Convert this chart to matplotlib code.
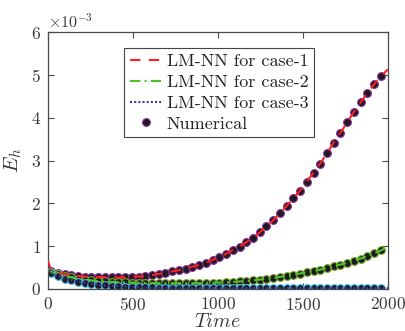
import numpy as np
import matplotlib
matplotlib.use("Agg")
import matplotlib.pyplot as plt

plt.rcParams['font.family'] = 'serif'
plt.rcParams['font.serif'] = ['cmr10', 'DejaVu Serif']
plt.rcParams['mathtext.fontset'] = 'cm'
plt.rcParams['axes.formatter.use_mathtext'] = True
plt.rcParams['axes.unicode_minus'] = True

# marker sampling times
t_num = np.linspace(18, 1958, 50)

case1_num = [0.42, 0.37, 0.34, 0.32, 0.30, 0.29, 0.285, 0.28, 0.275, 0.27,
             0.27, 0.275, 0.28, 0.29, 0.30, 0.32, 0.35, 0.38, 0.41, 0.44,
             0.47, 0.52, 0.56, 0.61, 0.68, 0.74, 0.82, 0.91, 0.99, 1.09,
             1.20, 1.32, 1.46, 1.60, 1.77, 1.94, 2.12, 2.30, 2.51, 2.72,
             2.93, 3.17, 3.42, 3.65, 3.89, 4.14, 4.36, 4.58, 4.78, 4.97]

case2_num = [0.40, 0.35, 0.30, 0.27, 0.24, 0.22, 0.20, 0.185, 0.175, 0.165,
             0.16, 0.155, 0.15, 0.145, 0.14, 0.14, 0.135, 0.135, 0.135, 0.135,
             0.135, 0.135, 0.135, 0.14, 0.145, 0.15, 0.155, 0.165, 0.175, 0.185,
             0.20, 0.22, 0.24, 0.26, 0.28, 0.31, 0.33, 0.36, 0.39, 0.42,
             0.45, 0.49, 0.53, 0.57, 0.61, 0.66, 0.71, 0.77, 0.83, 0.90]

case3_num = [0.37, 0.30, 0.24, 0.21, 0.17, 0.15, 0.12, 0.10, 0.085, 0.075,
             0.065, 0.055, 0.05, 0.045, 0.04, 0.035, 0.033, 0.03, 0.03, 0.028,
             0.027, 0.026, 0.025, 0.025, 0.024, 0.024, 0.023, 0.023, 0.022, 0.022,
             0.022, 0.021, 0.021, 0.021, 0.02, 0.02, 0.02, 0.02, 0.02, 0.02,
             0.02, 0.02, 0.02, 0.02, 0.02, 0.02, 0.02, 0.02, 0.02, 0.02]

# LM-NN line start (t=0) and end (t=2000) values
line_t_start, line_t_end = 0, 2000
case1_line_ends = [0.66, 5.13]
case2_line_ends = [0.47, 0.98]
case3_line_ends = [0.55, 0.02]

labels = ['LM-NN for case-1', 'LM-NN for case-2', 'LM-NN for case-3', 'Numerical']
scale = 1e-3

fig = plt.figure(figsize=(4.05, 3.31), dpi=100)
ax = fig.add_axes([0.1185, 0.127, 0.8395, 0.776])

def line_series(ends, vals):
    t = np.concatenate([[line_t_start], t_num, [line_t_end]])
    y = np.concatenate([[ends[0]], vals, [ends[1]]]) * scale
    return t, y

mk = dict(marker='o', linestyle='none', markersize=5.6, markerfacecolor='#1e1a1f',
          markeredgewidth=0.8)

t1, y1 = line_series(case1_line_ends, case1_num)
t2, y2 = line_series(case2_line_ends, case2_num)
t3, y3 = line_series(case3_line_ends, case3_num)

h1, = ax.plot(t1, y1, color='#ff1f1f', linestyle=(0, (5, 4)), lw=1.5, zorder=3)
h2, = ax.plot(t2, y2, color='#4fc32a', linestyle=(0, (5, 2, 1, 2)), lw=1.5, zorder=3)
h3, = ax.plot(t3, y3, color='#2e3fa8', linestyle=(0, (1, 1)), lw=1.5, zorder=3)

hn, = ax.plot(t_num, np.array(case1_num) * scale, markeredgecolor='#8a2f9a', zorder=2, **mk)
ax.plot(t_num, np.array(case2_num) * scale, markeredgecolor='#77ac30', zorder=2, **mk)
ax.plot(t_num, np.array(case3_num) * scale, markeredgecolor='#4dbeee', zorder=2, **mk)

ax.set_xlim(0, 2000)
ax.set_ylim(0, 6e-3)
ax.set_xticks([0, 500, 1000, 1500, 2000])
ax.set_yticks(np.arange(0, 7) * 1e-3)
ax.ticklabel_format(style='sci', axis='y', scilimits=(0, 0), useMathText=True)

for s in ax.spines.values():
    s.set_color('#4a4a4a')
    s.set_linewidth(0.9)
ax.tick_params(direction='in', top=True, right=True, length=4, width=0.8,
               colors='#4a4a4a', labelcolor='#383838', labelsize=12.5, pad=5)
ax.yaxis.get_offset_text().set_fontsize(11.5)
ax.yaxis.get_offset_text().set_color('#383838')

ax.set_xlabel(r'$Time$', fontsize=14.5, color='#383838', labelpad=0)
ax.set_ylabel(r'$E_h$', fontsize=15, color='#383838', labelpad=5)

leg = ax.legend([h1, h2, h3, hn], labels, loc='upper left',
                bbox_to_anchor=(0.2235, 0.938), borderaxespad=0, fontsize=13,
                fancybox=False, framealpha=1, edgecolor='#444444',
                handlelength=1.75, handletextpad=0.3, labelspacing=0.28,
                borderpad=0.32, markerscale=1.0)
leg.get_frame().set_linewidth(0.8)
for t in leg.get_texts():
    t.set_color('#222222')

fig.savefig('out.png', dpi=100)
